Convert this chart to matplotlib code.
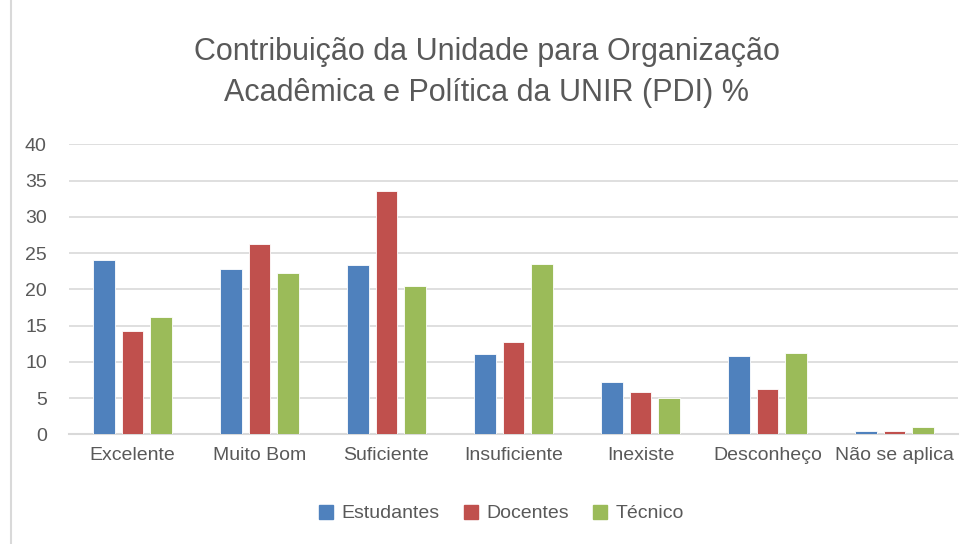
import numpy as np
import matplotlib.pyplot as plt
from matplotlib.lines import Line2D

categorias = ['Excelente', 'Muito Bom', 'Suficiente', 'Insuficiente',
              'Inexiste', 'Desconheço', 'Não se aplica']
estudantes = [24.0, 22.8, 23.3, 11.1, 7.2, 10.8, 0.5]
docentes = [14.3, 26.2, 33.6, 12.7, 5.8, 6.3, 0.4]
tecnico = [16.2, 22.3, 20.4, 23.5, 5.0, 11.2, 1.0]
series = ['Estudantes', 'Docentes', 'Técnico']
cores = ['#4f81bd', '#c0504d', '#9bbb59']
yticks = [0, 5, 10, 15, 20, 25, 30, 35, 40]

plt.rcParams['font.family'] = ['Liberation Sans', 'DejaVu Sans']
texto = '#595959'

fig = plt.figure(figsize=(9.73, 5.44), dpi=100)
ax = fig.add_axes([0.0709, 0.2017, 0.9137, 0.533])

x = np.arange(len(categorias))
w = 0.171
passo = 0.223
for i, (vals, nome, cor) in enumerate(zip([estudantes, docentes, tecnico], series, cores)):
    ax.bar(x + (i - 1) * passo, vals, width=w, color=cor, label=nome,
           edgecolor='white', linewidth=0.6, zorder=3)

ax.set_xlim(-0.5, len(categorias) - 0.5)
ax.set_ylim(0, 40)
ax.set_yticks(yticks)
ax.set_xticks(x)
ax.set_xticklabels(categorias)
ax.tick_params(axis='both', length=0, labelsize=14, colors=texto)
ax.tick_params(axis='x', pad=9)
ax.tick_params(axis='y', pad=16)
ax.grid(axis='y', color='#d9d9d9', linewidth=1.2, zorder=0)
for s in ['top', 'right', 'left']:
    ax.spines[s].set_visible(False)
ax.spines['bottom'].set_color('#d9d9d9')
ax.spines['bottom'].set_linewidth(1.5)

fig.text(0.5, 0.867, 'Contribuição da Unidade para Organização\nAcadêmica e Política da UNIR (PDI) %',
         ha='center', va='center', fontsize=22, color=texto, linespacing=1.45)

handles = [Line2D([], [], marker='s', linestyle='none', markersize=9.5,
                  markerfacecolor=c, markeredgecolor=c) for c in cores]
fig.legend(handles, series, loc='center', bbox_to_anchor=(0.515, 0.056), ncol=3,
           frameon=False, fontsize=14, handlelength=0.8, handletextpad=0.4,
           columnspacing=1.2, labelcolor=texto)

fig.add_artist(Line2D([0.011, 0.011], [0, 1], transform=fig.transFigure,
                      color='#d9d9d9', linewidth=1.5))

fig.savefig('out.png', dpi=100)
